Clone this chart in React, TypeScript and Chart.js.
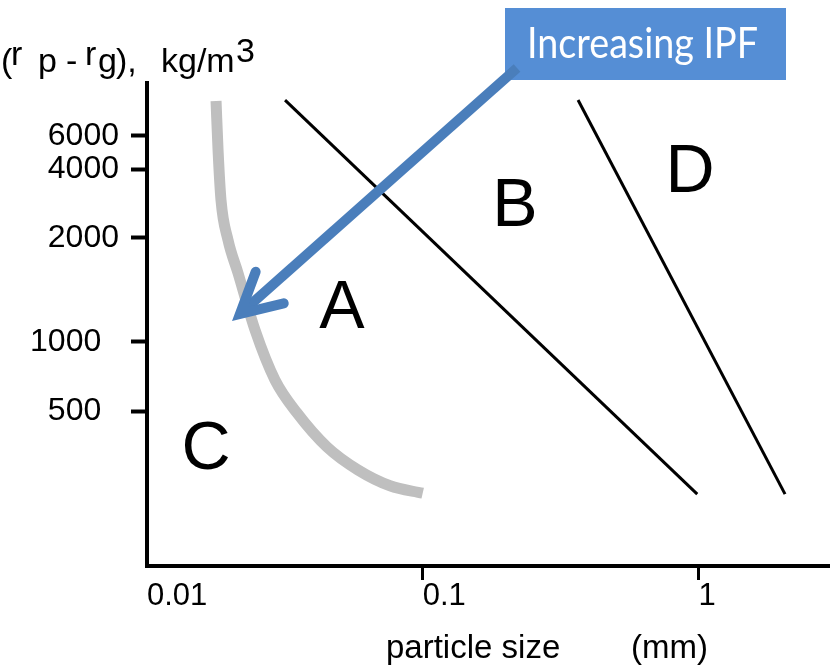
import React, { useEffect, useRef } from 'react';
import { Chart, registerables, LogarithmicScale } from 'chart.js';

// ---------------- data ----------------
const X_TICKS = [0.01, 0.1, 1];
const X_TICK_LABELS = ['0.01', '0.1', '1'];
const Y_TICKS = [500, 1000, 2000, 4000, 6000];
const Y_TICK_LABELS = ['500', '1000', '2000', '4000', '6000'];

// C / A boundary (grey curve): particle size (mm) vs density difference (kg/m3)
const CA_SIZE = [0.0178, 0.0181, 0.01855, 0.01967, 0.02138, 0.02465, 0.02912, 0.035, 0.04497, 0.05826, 0.07611, 0.1];
const CA_DENSITY = [9480, 5050, 2930, 1973, 1584, 1083, 683, 490, 344, 271, 230, 213];

// A / B boundary
const AB_SIZE = [0.03167, 0.99];
const AB_DENSITY = [9600, 211];

// B / D boundary
const BD_SIZE = [0.3659, 2.061];
const BD_DENSITY = [9600, 211];

// group labels
const REGION_LABELS = ['A', 'B', 'C', 'D'];
const REGION_SIZE = [0.05096, 0.2161, 0.01637, 0.9322];
const REGION_DENSITY = [1098, 2256, 274, 3176];

// "Increasing IPF" arrow (tail -> tip)
const ARROW_SIZE = [0.2198, 0.02034];
const ARROW_DENSITY = [14600, 1150];
const ARROW_TEXT = 'Increasing IPF';

// ---------------- y scale calibration (the figure's axis is not a pure log scale) ----------------
const Y_ANCHORS: [number, number][] = [
  [100, 0],
  [500, 0.3209],
  [1000, 0.4638],
  [2000, 0.6791],
  [4000, 0.8219],
  [6000, 0.8903],
  [12000, 1],
];

class PiecewiseLogScale extends LogarithmicScale {
  static id = 'piecewiseLog';
  static defaults = LogarithmicScale.defaults;
  getPixelForValue(value: any) {
    if (value === undefined || value === null || !(value > 0)) return NaN;
    const lv = Math.log10(value);
    const a = Y_ANCHORS;
    let i = 0;
    while (i < a.length - 2 && lv > Math.log10(a[i + 1][0])) i++;
    const l0 = Math.log10(a[i][0]);
    const l1 = Math.log10(a[i + 1][0]);
    const d = a[i][1] + ((lv - l0) / (l1 - l0)) * (a[i + 1][1] - a[i][1]);
    return this.getPixelForDecimal(d);
  }
  getValueForPixel(pixel: number) {
    const d = this.getDecimalForPixel(pixel);
    const a = Y_ANCHORS;
    let i = 0;
    while (i < a.length - 2 && d > a[i + 1][1]) i++;
    const l0 = Math.log10(a[i][0]);
    const l1 = Math.log10(a[i + 1][0]);
    return Math.pow(10, l0 + ((d - a[i][1]) / (a[i + 1][1] - a[i][1])) * (l1 - l0));
  }
}

Chart.register(...registerables, PiecewiseLogScale);

const FONT = "'Liberation Sans', Arial, Helvetica, sans-serif";
const ARROW_COLOR = '#4a7ebb';
const BOX_COLOR = '#558ed5';

const annotationPlugin = {
  id: 'geldartAnnotations',
  afterDatasetsDraw(chart: any) {
    const ctx = chart.ctx as CanvasRenderingContext2D;
    const xs = chart.scales.x;
    const ys = chart.scales.y;
    ctx.save();

    // region letters
    ctx.fillStyle = '#000';
    ctx.font = `68px ${FONT}`;
    ctx.textAlign = 'center';
    ctx.textBaseline = 'alphabetic';
    REGION_LABELS.forEach((t, i) => {
      ctx.fillText(t, xs.getPixelForValue(REGION_SIZE[i]), ys.getPixelForValue(REGION_DENSITY[i]));
    });

    // text box
    const boxL = 505, boxT = 8, boxW = 281, boxH = 72;
    ctx.fillStyle = BOX_COLOR;
    ctx.fillRect(boxL, boxT, boxW, boxH);

    // arrow
    const fx = xs.getPixelForValue(ARROW_SIZE[0]);
    const fy = ys.getPixelForValue(ARROW_DENSITY[0]);
    const tx = xs.getPixelForValue(ARROW_SIZE[1]);
    const ty = ys.getPixelForValue(ARROW_DENSITY[1]);
    const ang = Math.atan2(fy - ty, fx - tx);
    const lw = 10;
    const headAng = (28 * Math.PI) / 180;
    const headLen = 45;
    const back = lw / 2 / Math.sin(headAng);
    const vx = tx + Math.cos(ang) * back;
    const vy = ty + Math.sin(ang) * back;
    ctx.strokeStyle = ARROW_COLOR;
    ctx.lineWidth = lw;
    ctx.lineCap = 'butt';
    ctx.beginPath();
    ctx.moveTo(fx, fy);
    ctx.lineTo(vx + Math.cos(ang) * 4, vy + Math.sin(ang) * 4);
    ctx.stroke();
    ctx.lineJoin = 'miter';
    ctx.miterLimit = 10;
    ctx.lineCap = 'round';
    ctx.beginPath();
    ctx.moveTo(vx + Math.cos(ang + headAng) * headLen, vy + Math.sin(ang + headAng) * headLen);
    ctx.lineTo(vx, vy);
    ctx.lineTo(vx + Math.cos(ang - headAng) * headLen, vy + Math.sin(ang - headAng) * headLen);
    ctx.stroke();

    // box text
    ctx.fillStyle = '#fff';
    ctx.font = `42px Lato, 'Open Sans', sans-serif`;
    ctx.textAlign = 'center';
    ctx.textBaseline = 'alphabetic';
    const w = ctx.measureText(ARROW_TEXT).width;
    const sx = Math.min(1, 231 / w);
    ctx.translate(642.5, 58);
    ctx.scale(sx, 1);
    ctx.fillText(ARROW_TEXT, 0, 0);
    ctx.restore();

    // axis titles
    ctx.save();
    ctx.fillStyle = '#000';
    ctx.textAlign = 'left';
    ctx.textBaseline = 'alphabetic';
    ctx.font = `34px ${FONT}`;
    const yTitle: [string, number, number][] = [
      ['(', 1, 72],
      ['r', 11, 65],
      ['p', 38, 72],
      ['-', 66, 72],
      ['r', 85, 65],
      ['g', 98, 72],
      ['),', 116, 72],
      ['kg/m', 161, 72],
      ['3', 236, 62],
    ];
    yTitle.forEach(([t, x, y]) => ctx.fillText(t, x, y));
    ctx.font = `33px ${FONT}`;
    ctx.fillText('particle size', 386, 658);
    ctx.fillText('(mm)', 631, 658);
    ctx.restore();
  },
};

export default function App() {
  const ref = useRef<HTMLCanvasElement | null>(null);
  useEffect(() => {
    if (!ref.current) return;
    Chart.defaults.font.family = FONT;
    const chart = new Chart(ref.current, {
      type: 'scatter',
      data: {
        datasets: [
          {
            label: 'C/A',
            data: CA_SIZE.map((x, i) => ({ x, y: CA_DENSITY[i] })),
            borderColor: '#bfbfbf',
            borderWidth: 11,
            borderCapStyle: 'butt',
            cubicInterpolationMode: 'monotone',
            showLine: true,
            pointRadius: 0,
          },
          {
            label: 'A/B',
            data: AB_SIZE.map((x, i) => ({ x, y: AB_DENSITY[i] })),
            borderColor: '#000',
            borderWidth: 3,
            showLine: true,
            pointRadius: 0,
          },
          {
            label: 'B/D',
            data: BD_SIZE.map((x, i) => ({ x, y: BD_DENSITY[i] })),
            borderColor: '#000',
            borderWidth: 3,
            showLine: true,
            pointRadius: 0,
          },
        ],
      } as any,
      options: {
        animation: false,
        responsive: true,
        maintainAspectRatio: false,
        events: [],
        layout: { padding: { top: 83, left: 0, right: 0, bottom: 0 } },
        plugins: {
          legend: { display: false },
          tooltip: { enabled: false },
        },
        scales: {
          x: {
            type: 'logarithmic',
            min: 0.01,
            max: 3,
            afterBuildTicks: (s: any) => {
              s.ticks = X_TICKS.map((v) => ({ value: v }));
            },
            afterFit: (s: any) => {
              s.height = 103;
            },
            ticks: {
              callback: (_v: any, i: number) => X_TICK_LABELS[i],
              align: 'start',
              color: '#000',
              font: { size: 31, lineHeight: 1 },
              padding: 1,
              maxRotation: 0,
              autoSkip: false,
            },
            grid: {
              drawOnChartArea: false,
              drawTicks: true,
              tickLength: 14,
              tickWidth: 3,
              tickColor: (c: any) => (c.tick && c.tick.value === 0.01 ? 'rgba(0,0,0,0)' : '#000'),
            },
            border: { display: true, color: '#000', width: 4 },
          },
          y: {
            type: 'piecewiseLog',
            min: 100,
            max: 12000,
            afterBuildTicks: (s: any) => {
              s.ticks = Y_TICKS.map((v) => ({ value: v }));
            },
            afterFit: (s: any) => {
              s.width = 147;
            },
            ticks: {
              callback: (_v: any, i: number) => Y_TICK_LABELS[i] + (Y_TICKS[i] <= 1000 ? '  ' : ''),
              color: '#000',
              font: { size: 32 },
              padding: 12,
              autoSkip: false,
            },
            grid: {
              drawOnChartArea: false,
              drawTicks: true,
              tickLength: 16,
              tickWidth: 4,
              tickColor: '#000',
            },
            border: { display: true, color: '#000', width: 4 },
          },
        } as any,
      },
      plugins: [annotationPlugin],
    });
    return () => chart.destroy();
  }, []);
  return (
    <div style={{ position: 'fixed', left: 0, top: 0, width: 830, height: 669, background: '#fff' }}>
      <canvas ref={ref} />
    </div>
  );
}
